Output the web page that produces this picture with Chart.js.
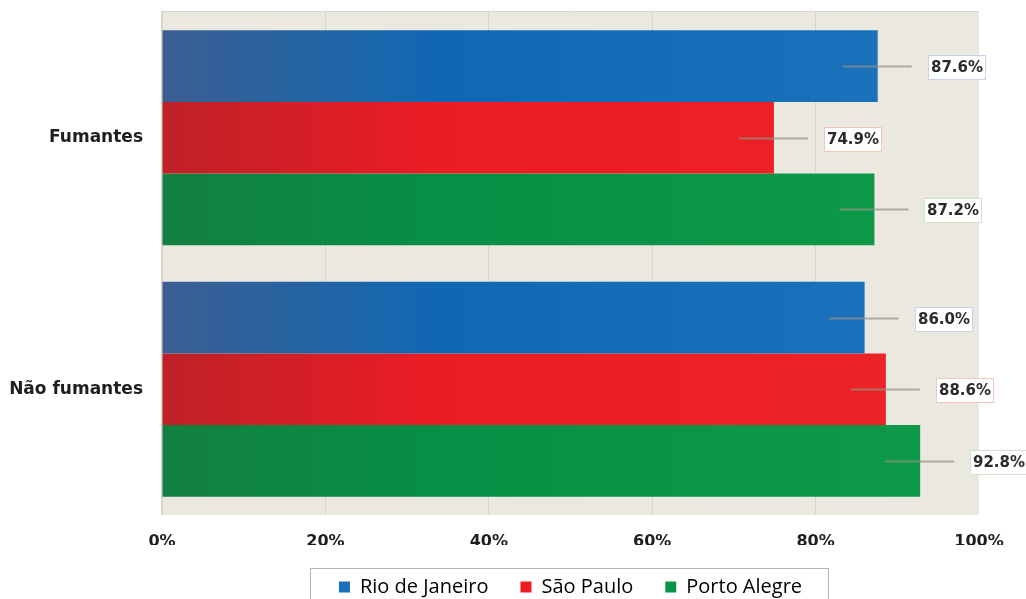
<!DOCTYPE html>
<html>
<head>
<meta charset="utf-8">
<script src="https://cdn.jsdelivr.net/npm/chart.js@4/dist/chart.umd.min.js"></script>
<style>
  html, body { margin: 0; padding: 0; background: #ffffff; overflow: hidden; }
  .chart-wrap { width: 1026px; height: 599px; position: relative; }
</style>
</head>
<body>
<div class="chart-wrap"><canvas id="smokeChart"></canvas></div>
<script>
// Categories and series
const groups = ['Fumantes', 'Não fumantes'];
const cities = ['Rio de Janeiro', 'São Paulo', 'Porto Alegre'];
const rioValues = [87.6, 86.0];
const saoPauloValues = [74.9, 88.6];
const portoAlegreValues = [87.2, 92.8];
const xTicks = [0, 20, 40, 60, 80, 100];

// Colours per city: dark left end, bright middle, right end, label frame
const cityColors = [
  { dark: '#3b5e92', mid: '#1068b3', end: '#1d74bd', legend: '#1a6ebb', frame: '#c8d3ea' },
  { dark: '#bf2128', mid: '#ec1c24', end: '#ec2427', legend: '#ec1c24', frame: '#f2c7b9' },
  { dark: '#147f40', mid: '#069045', end: '#0e9a4a', legend: '#0a944a', frame: '#cde5cf' }
];

const FONT = '"DejaVu Sans", Verdana, sans-serif';

// Horizontal gradient across the plot area for each bar series
function barGradient(index) {
  return (context) => {
    const { chart } = context;
    const area = chart.chartArea;
    if (!area) return cityColors[index].mid;
    const g = chart.ctx.createLinearGradient(area.left, 0, area.right, 0);
    g.addColorStop(0, cityColors[index].dark);
    g.addColorStop(0.34, cityColors[index].mid);
    g.addColorStop(1, cityColors[index].end);
    return g;
  };
}

// Beige plot background
const plotBackground = {
  id: 'plotBackground',
  beforeDraw(chart) {
    const { ctx, chartArea: a } = chart;
    ctx.save();
    ctx.fillStyle = '#ebe8df';
    ctx.fillRect(a.left, a.top, a.right - a.left, a.bottom - a.top);
    ctx.strokeStyle = '#d6d3cb';
    ctx.lineWidth = 1;
    ctx.beginPath();
    ctx.moveTo(a.left - 0.5, a.bottom);
    ctx.lineTo(a.left - 0.5, a.top - 0.5);
    ctx.lineTo(a.right, a.top - 0.5);
    ctx.stroke();
    ctx.restore();
  }
};

// Leader line plus framed value label next to each bar
const valueLabels = {
  id: 'valueLabels',
  afterDatasetsDraw(chart) {
    const { ctx } = chart;
    ctx.save();
    chart.data.datasets.forEach((ds, di) => {
      const meta = chart.getDatasetMeta(di);
      meta.data.forEach((bar, i) => {
        const text = ds.data[i].toFixed(1) + '%';
        const y = Math.round(bar.y);
        ctx.strokeStyle = 'rgba(150,146,132,0.7)';
        ctx.lineWidth = 2;
        ctx.beginPath();
        ctx.moveTo(bar.x - 35, y + 0.5);
        ctx.lineTo(bar.x + 34, y + 0.5);
        ctx.stroke();

        ctx.font = 'bold 15px ' + FONT;
        const w = Math.round(ctx.measureText(text).width) + 5;
        const bx = Math.round(bar.x + 50) + 0.5;
        const by = y - 10.5;
        ctx.fillStyle = '#ffffff';
        ctx.fillRect(bx, by, w, 24);
        ctx.strokeStyle = cityColors[di].frame;
        ctx.lineWidth = 1;
        ctx.strokeRect(bx, by, w, 24);
        ctx.fillStyle = '#2b2b2b';
        ctx.textBaseline = 'middle';
        ctx.textAlign = 'left';
        ctx.fillText(text, bx + 2.5, by + 13);
      });
    });
    ctx.restore();
  }
};

// Frame round the legend row
const legendFrame = {
  id: 'legendFrame',
  afterDraw(chart) {
    const boxes = chart.legend && chart.legend.legendHitBoxes;
    if (!boxes || !boxes.length) return;
    const first = boxes[0];
    const last = boxes[boxes.length - 1];
    const { ctx } = chart;
    ctx.save();
    ctx.strokeStyle = '#b5b5b5';
    ctx.lineWidth = 1;
    ctx.strokeRect(Math.round(first.left - 29) + 0.5, Math.round(first.top - 9) + 0.5,
      Math.round(last.left + last.width - first.left + 55), 60);
    ctx.restore();
  }
};

const seriesValues = [rioValues, saoPauloValues, portoAlegreValues];

new Chart(document.getElementById('smokeChart'), {
  type: 'bar',
  data: {
    labels: groups,
    datasets: cities.map((name, i) => ({
      label: name,
      data: seriesValues[i],
      backgroundColor: barGradient(i),
      borderWidth: 0,
      categoryPercentage: 0.855,
      barPercentage: 1.0
    }))
  },
  options: {
    indexAxis: 'y',
    responsive: true,
    maintainAspectRatio: false,
    animation: false,
    layout: { padding: { top: 12, right: 47, left: 0, bottom: 0 } },
    scales: {
      x: {
        min: 0,
        max: 100,
        afterBuildTicks(scale) {
          scale.ticks = xTicks.map(v => ({ value: v }));
        },
        afterFit(scale) { scale.height = 30; },
        grid: {
          color: (c) => (c.tick && c.tick.value === 100) ? 'rgba(0,0,0,0)' : '#d9d5c9',
          drawTicks: false,
          lineWidth: 1
        },
        border: { display: false },
        ticks: {
          padding: 17,
          color: '#1e1e1e',
          font: { family: FONT, size: 16, weight: 'bold' },
          callback: (v) => v + '%'
        }
      },
      y: {
        afterFit(scale) {
          scale.width = 162;
          scale.paddingTop = 0;
          scale.paddingBottom = 0;
        },
        grid: { display: false, drawTicks: false },
        border: { display: false },
        ticks: {
          padding: 19,
          color: '#1e1e1e',
          font: { family: FONT, size: 17, weight: 'bold' }
        }
      }
    },
    plugins: {
      legend: {
        position: 'bottom',
        fullSize: false,
        maxHeight: 54,
        labels: {
          boxWidth: 11,
          boxHeight: 11,
          padding: 32,
          color: '#333333',
          font: { family: '"Open Sans", sans-serif', size: 20 },
          generateLabels: (chart) => chart.data.datasets.map((ds, i) => ({
            text: ds.label,
            fillStyle: cityColors[i].legend,
            strokeStyle: cityColors[i].legend,
            lineWidth: 0,
            datasetIndex: i
          }))
        }
      },
      tooltip: { enabled: false }
    }
  },
  plugins: [plotBackground, valueLabels, legendFrame]
});
</script>
</body>
</html>
